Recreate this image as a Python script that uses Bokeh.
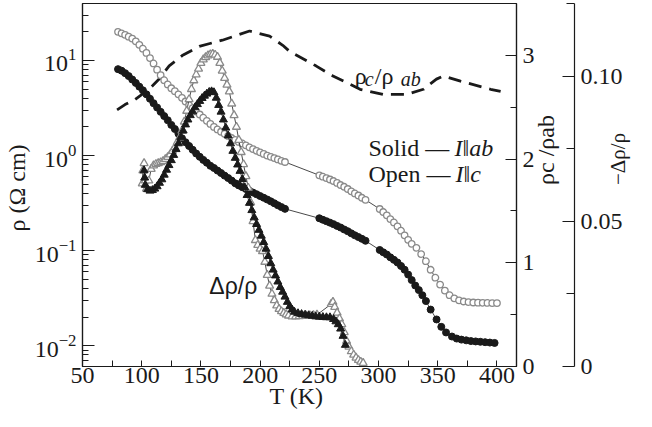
import math
from bokeh.plotting import figure
from bokeh.models import (Range1d, LinearAxis, FixedTicker, Label, CustomJSTickFormatter,
                          LogTicker, LinearScale)
from bokeh.embed import file_html
from bokeh.resources import INLINE

# I || c (open circles): rho in Ohm cm
T_c = [80, 83, 86, 89, 92, 95, 98, 101, 104, 107, 110, 113, 116, 119, 122, 125, 128, 131,
       134, 137, 140, 143, 146, 149, 152, 155, 158, 161, 164, 167, 170, 173, 176, 179,
       182, 185, 188, 191, 194, 197, 200, 203, 206, 209, 212, 215, 218, 221,
       250, 253, 256, 259, 262, 265, 268, 271, 274, 277, 280, 283, 286, 289,
       301, 304, 307, 310, 313, 316, 319, 322, 325, 328, 332, 336, 340, 344, 348, 352,
       356, 360, 364, 368, 372, 376, 380, 384, 388, 392, 396, 400]
rho_c = [20.0, 19.3, 18.6, 17.8, 17.0, 15.9, 14.6, 13.3, 12.0, 10.6, 9.3, 8.0, 7.0, 6.2,
         5.6, 5.1, 4.75, 4.4, 4.05, 3.7, 3.4, 3.15, 2.9, 2.7, 2.5, 2.32, 2.15, 2.0, 1.88,
         1.78, 1.69, 1.61, 1.53, 1.46, 1.39, 1.34, 1.28, 1.22, 1.17, 1.12, 1.08, 1.04,
         1.0, 0.97, 0.94, 0.91, 0.88, 0.855,
         0.62, 0.60, 0.58, 0.56, 0.54, 0.515, 0.49, 0.47, 0.445, 0.42, 0.40, 0.38, 0.36, 0.342,
         0.274, 0.255, 0.235, 0.215, 0.198, 0.18, 0.162, 0.145, 0.13, 0.118, 0.107, 0.092,
         0.0775, 0.063, 0.052, 0.044, 0.038, 0.034, 0.0315, 0.030, 0.0292, 0.0288, 0.0285,
         0.0284, 0.0283, 0.0282, 0.0281, 0.0281]

# I || ab (filled circles)
T_ab = [80, 83, 86, 89, 92, 95, 98, 101, 104, 107, 110, 113, 116, 119, 122, 125, 128, 131,
        134, 137, 140, 143, 146, 149, 152, 155, 158, 161, 164, 167, 170, 173, 176, 179,
        182, 185, 188, 191, 194, 197, 200, 203, 206, 209, 212, 215, 218, 221,
        250, 253, 256, 259, 262, 265, 268, 271, 274, 277, 280, 283, 286, 289,
        301, 304, 307, 310, 313, 316, 319, 322, 325, 328, 331, 334, 337, 340, 344, 349,
        353, 357, 362, 366, 370, 374, 378, 382, 386, 390, 394, 398]
rho_ab = [8.1, 7.8, 7.35, 6.85, 6.3, 5.8, 5.3, 4.85, 4.4, 3.95, 3.55, 3.2, 2.88, 2.6, 2.35,
          2.1, 1.9, 1.7, 1.52, 1.38, 1.26, 1.15, 1.05, 0.97, 0.90, 0.84, 0.78, 0.74, 0.695,
          0.655, 0.615, 0.58, 0.545, 0.51, 0.485, 0.465, 0.445, 0.425, 0.408, 0.392, 0.375,
          0.36, 0.345, 0.33, 0.315, 0.30, 0.287, 0.275,
          0.219, 0.211, 0.204, 0.197, 0.19, 0.182, 0.175, 0.167, 0.16, 0.152, 0.145, 0.139,
          0.133, 0.127,
          0.1016, 0.096, 0.091, 0.085, 0.08, 0.075, 0.069, 0.063, 0.056, 0.049, 0.043, 0.0385,
          0.034, 0.0295, 0.024, 0.0189, 0.0158, 0.0138, 0.0125, 0.0119, 0.0116, 0.0114,
          0.0112, 0.0111, 0.0110, 0.0109, 0.0108, 0.0107]

# anisotropy rho_c / rho_ab (dashed)
T_ratio = [79.2, 85.9, 94.4, 106.2, 114.7, 123.2, 134.2, 148.6, 168.1, 191.1,
           208.0, 219.1, 225.0, 247.1, 261.5, 284.4, 303.9, 323.5, 337.9, 348.9,
           354.8, 369.2, 394.6, 403.1]
ratio = [2.475, 2.525, 2.574, 2.673, 2.771, 2.899, 2.998, 3.087, 3.146, 3.235,
         3.185, 3.097, 3.037, 2.899, 2.801, 2.673, 2.623, 2.623, 2.673, 2.771,
         2.801, 2.751, 2.673, 2.653]

# -Delta rho / rho, I || ab (filled triangles)
T_d_ab = [102, 102.5, 103, 105, 107, 109, 111, 113, 115, 117, 119, 121, 123, 125, 127, 129,
          131, 133, 135, 137, 139, 141, 143, 145, 147, 149, 151, 153, 155, 157, 159, 161,
          163, 165, 167, 169, 171, 173, 175, 177, 179, 181, 183, 185, 187, 189, 191, 193,
          195, 197, 199, 201, 203, 205, 207, 209, 211, 213, 215, 217, 219, 221, 223, 225,
          227, 229, 232, 235, 238, 241, 244, 247, 250, 253, 256, 259, 262, 264, 266, 268,
          270, 272]
d_ab = [0.0675, 0.0650, 0.0625, 0.0610, 0.0605, 0.0607, 0.0612, 0.0620, 0.0632, 0.0644,
        0.0660, 0.0677, 0.0693, 0.0710, 0.0728, 0.0748, 0.0768, 0.0790, 0.0812, 0.0833,
        0.0850, 0.0865, 0.0878, 0.0892, 0.0903, 0.0914, 0.0924, 0.0932, 0.0939, 0.0945,
        0.0947, 0.0944, 0.0925, 0.0900, 0.0877, 0.0850, 0.0822, 0.0795, 0.0768, 0.0742,
        0.0718, 0.0695, 0.0673, 0.0645, 0.0617, 0.0590, 0.0563, 0.0538, 0.0513, 0.0490,
        0.0470, 0.0450, 0.0428, 0.0405, 0.0380, 0.0355, 0.0333, 0.0313, 0.0292, 0.0273,
        0.0257, 0.0240, 0.0222, 0.0207, 0.0196, 0.0188, 0.0183, 0.0180, 0.0178, 0.0176,
        0.0174, 0.0172, 0.0171, 0.0170, 0.0169, 0.0169, 0.0163, 0.0155, 0.0145, 0.0130,
        0.0105, 0.0074]

# -Delta rho / rho, I || c (open triangles)
T_d_c = [100.5, 101, 102, 103, 104, 106, 108, 110, 112, 114, 116, 118, 120, 122, 124, 126,
         128, 130, 132, 134, 136, 138, 140, 142, 144, 146, 148, 150, 152, 154, 156, 158,
         160, 162, 164, 166, 168, 170, 172, 174, 176, 178, 180, 182, 184, 186, 188, 190,
         192, 194, 196, 198, 200, 202, 204, 206, 208, 210, 212, 214, 216, 218, 220, 222,
         224, 227, 230, 233, 236, 239, 242, 245, 248, 260, 261.5, 263, 265, 267, 269, 271,
         273, 275, 277, 279, 281, 283, 285, 287]
d_c = [0.0630, 0.0675, 0.0700, 0.0640, 0.0612, 0.0640, 0.0680, 0.0692, 0.0697, 0.0700,
       0.0703, 0.0707, 0.0714, 0.0721, 0.0730, 0.0742, 0.0755, 0.0772, 0.0788, 0.0812,
       0.0843, 0.0880, 0.0920, 0.0955, 0.0985, 0.1005, 0.1025, 0.1045, 0.1057, 0.1065,
       0.1071, 0.1075, 0.1076, 0.1073, 0.1066, 0.1045, 0.1018, 0.0993, 0.0970, 0.0947,
       0.0905, 0.0865, 0.0825, 0.0780, 0.0738, 0.0696, 0.0655, 0.0615, 0.0565, 0.0500,
       0.0435, 0.0418, 0.0405, 0.0397, 0.0360, 0.0315, 0.0278, 0.0250, 0.0228, 0.0210,
       0.0198, 0.0190, 0.0184, 0.0179, 0.0175, 0.0172, 0.0172, 0.0173, 0.0174, 0.0175,
       0.0176, 0.0177, 0.0178, 0.0215, 0.0222, 0.0205, 0.0185, 0.0165, 0.0145, 0.0118,
       0.0088, 0.0068, 0.0052, 0.0040, 0.0030, 0.0022, 0.0016, 0.0012]

x_ticks = [50, 100, 150, 200, 250, 300, 350, 400]
x_minor = [75, 125, 175, 225, 275, 325, 375]
ratio_ticks = [0, 1, 2, 3]
ratio_minor = [0.5, 1.5, 2.5]
drho_ticks = [0, 0.05, 0.10]
drho_minor = [0.025, 0.075, 0.125]

SERIF = "Liberation Serif"
FS = "24px"
INK = "#1a1a1a"
GRAY = "#8a8a8a"

p = figure(width=644, height=411, y_axis_type="log",
           x_range=Range1d(50, 416.5), y_range=Range1d(0.00605, 39.7),
           output_backend="svg", toolbar_location=None,
           min_border_left=72, min_border_top=3, min_border_bottom=10, min_border_right=0)
p.xgrid.visible = False
p.ygrid.visible = False
p.outline_line_color = INK
p.outline_line_width = 1.2
p.background_fill_color = "white"

p.extra_y_ranges = {"ratio": Range1d(0, 3.5), "drho": Range1d(0, 0.125)}
p.extra_y_scales = {"ratio": LinearScale(), "drho": LinearScale()}

xa = p.xaxis[0]
xa.ticker = FixedTicker(ticks=x_ticks, minor_ticks=x_minor)
xa.axis_label = "T  (K)"
ya = p.yaxis[0]
ya.ticker = LogTicker(num_minor_ticks=10)
ya.axis_label = "ρ  (Ω cm)"

ra = LinearAxis(y_range_name="ratio", axis_label="ρc /ρab",
                ticker=FixedTicker(ticks=ratio_ticks, minor_ticks=ratio_minor))
da = LinearAxis(y_range_name="drho", axis_label="−Δρ/ρ",
                ticker=FixedTicker(ticks=drho_ticks, minor_ticks=drho_minor),
                formatter=CustomJSTickFormatter(code="return tick == 0 ? '0' : tick.toFixed(2);"))
p.add_layout(ra, "right")
p.add_layout(da, "right")

for ax, maj, mnr in [(xa, 6, 6), (ya, 12, 6), (ra, 11, 6), (da, 12, 8)]:
    ax.major_tick_in = maj
    ax.major_tick_out = 0
    ax.minor_tick_in = mnr
    ax.minor_tick_out = 0
    ax.axis_line_color = INK
    ax.major_tick_line_color = INK
    ax.minor_tick_line_color = INK
    ax.axis_line_width = 1.2
    ax.major_label_text_font = SERIF
    ax.major_label_text_font_size = FS
    ax.major_label_text_color = INK
    ax.axis_label_text_font = SERIF
    ax.axis_label_text_font_size = FS
    ax.axis_label_text_font_style = "normal"
    ax.axis_label_text_color = INK
    ax.major_label_standoff = 6
    ax.axis_label_standoff = 2
ra.axis_label_orientation = math.pi / 2
da.axis_label_orientation = math.pi / 2
ra.axis_label_standoff = 8
da.axis_label_text_font_size = "21px"
da.axis_label_standoff = -8
xa.major_label_standoff = 1
xa.axis_label_standoff = -3

# data
p.line(T_ratio, ratio, y_range_name="ratio", line_color=INK, line_width=2.8, line_dash="13 8")

p.line(T_c, rho_c, line_color=INK, line_width=0.8)
p.scatter(T_c, rho_c, marker="circle", size=6.5, fill_color="white", line_color=GRAY, line_width=1.3)
p.line(T_ab, rho_ab, line_color=INK, line_width=0.8)
p.scatter(T_ab, rho_ab, marker="circle", size=7, fill_color=INK, line_color=INK)

p.line(T_d_c, d_c, y_range_name="drho", line_color=INK, line_width=0.8)
p.scatter(T_d_c, d_c, y_range_name="drho", marker="triangle", size=8, fill_color="white",
          line_color=GRAY, line_width=1.3)
p.line(T_d_ab, d_ab, y_range_name="drho", line_color=INK, line_width=0.8)
p.scatter(T_d_ab, d_ab, y_range_name="drho", marker="triangle", size=8, fill_color=INK, line_color=INK)

def lab(x, y, text, xo=0, yo=0, size=FS, style="normal", font=SERIF, rng="ratio"):
    p.add_layout(Label(x=x, y=y, text=text, x_offset=xo, y_offset=yo, y_range_name=rng,
                       text_font=font, text_font_size=size, text_font_style=style,
                       text_color=INK, text_baseline="alphabetic"))

lab(280, 2.80, "ρ")
lab(280, 2.80, "c", 10, -3, size="20px", style="italic")
lab(280, 2.80, " /ρ", 20, 0)
lab(280, 2.80, "ab", 46, -3, size="20px", style="italic")

lab(291.5, 2.11, "Solid — ")
lab(291.5, 2.11, "I‖ab", 86, 0, style="italic")
lab(291.5, 1.854, "Open — ")
lab(291.5, 1.854, "I‖c", 87, 0, style="italic")

lab(157.1, 0.0278, "Δρ/ρ", size="23px", font="Liberation Sans", rng="drho")

open("out.html", "w").write(file_html(p, INLINE))
